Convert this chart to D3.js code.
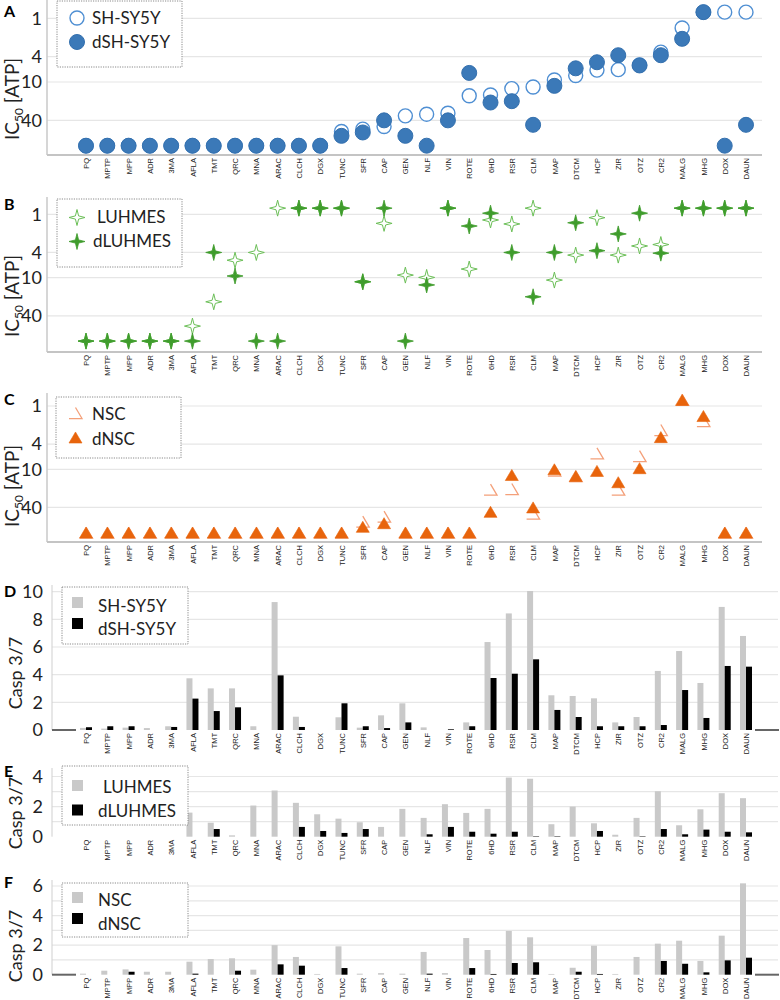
<!DOCTYPE html>
<html><head><meta charset="utf-8">
<script src="https://cdn.jsdelivr.net/npm/d3@7"></script>
<style>body{margin:0;background:#fff} svg{display:block}</style>
</head><body><svg id="c" width="780" height="1000"></svg>
<script>
const categories = ["PQ","MPTP","MPP","ADR","3MA","AFLA","TMT","QRC","MNA","ARAC","CLCH","DGX","TUNC","SFR","CAP","GEN","NLF","VIN","ROTE","6HD","RSR","CLM","MAP","DTCM","HCP","ZIR","OTZ","CR2","MALG","MHG","DOX","DAUN"];
const ic50Ticks = [1, 4, 10, 40];

// Panel A: IC50 (ATP)
const ic50_SHSY5Y  = [100,100,100,100,100,100,100,100,100,100,100,100, 60,55,50,34,32,31,16.4,16,12.7,12,9.3,7.9,6.5,6.4,5.4,3.4,1.42,0.8,0.8,0.8];
const ic50_dSHSY5Y = [100,100,100,100,100,100,100,100,100,100,100,100, 70,62,40,70,100,40,7.2,21,20,47,11.5,6.1,4.9,3.8,5.5,3.8,2.1,0.8,100,47];
// Panel B
const ic50_LUHMES  = [100,100,100,100,100, 58,24,5.3,4.0,0.8,0.8,0.8,0.8,11.6,1.39,9.1,9.9,0.8,7.3,1.23,1.42,0.8,10.9,4.4,1.13,4.4,3.16,3.0,0.8,0.8,0.8,0.8];
const ic50_dLUHMES = [100,100,100,100,100, 100,4.0,9.4,100,100,0.8,0.8,0.8,11.6,0.8,100,13,0.8,1.53,0.96,4.0,20,4.0,1.36,3.75,2.04,0.96,4.1,0.8,0.8,0.8,0.8];
// Panel C
const ic50_NSC  = [100,100,100,100,100,100,100,100,100,100,100,100,100, 67,56,100,100,100,100,21,20.5,50,10.5,12.8,5.6,21,6.2,2.4,0.8,1.73,100,100];
const ic50_dNSC = [100,100,100,100,100,100,100,100,100,100,100,100,100, 81,71,100,100,100,100,47,12.3,40,10,12.8,10.6,16,9.6,3.1,0.8,1.44,100,100];

// Panel D: Casp 3/7
const casp_SHSY5Y  = [0.15,0.1,0.17,0.14,0.27,3.74,3.01,3.01,0.27,9.25,0.96,0,0.92,0.17,1.06,1.93,0.19,0,0.55,6.36,8.43,10.05,2.51,2.46,2.29,0.55,0.94,4.27,5.71,3.4,8.9,6.8];
const casp_dSHSY5Y = [0.2,0.27,0.27,0,0.22,2.27,1.37,1.64,0,3.95,0.22,0,1.93,0.27,0.14,0.55,0,0.05,0.27,3.76,4.07,5.11,1.45,0.94,0.27,0.27,0.27,0.36,2.89,0.87,4.63,4.58];
// Panel E
const casp_LUHMES  = [0,0,0,0,0,1.6,0.93,0.09,2.07,3.07,2.25,1.49,1.2,0.96,0.65,1.85,1.25,2.16,1.58,1.85,3.93,3.85,0.83,2.0,0.89,0.13,1.25,3.02,0.76,1.82,2.89,2.56];
const casp_dLUHMES = [0,0,0,0,0,0,0.51,0,0,0,0.65,0.38,0.25,0.51,0,0,0.16,0.65,0.33,0.2,0.33,0.03,0.03,0,0.38,0,0.03,0.51,0.16,0.47,0.33,0.29];
// Panel F
const casp_NSC  = [0.07,0.27,0.36,0.2,0.2,0.88,1.06,1.11,0.34,2.0,1.2,0.05,1.92,0.07,0.11,0.07,1.54,0.11,2.48,1.67,2.96,2.53,0.05,0.47,1.96,0.05,1.2,2.1,2.3,0.93,2.64,6.18];
const casp_dNSC = [0,0,0.2,0,0,0.07,0,0.27,0,0.7,0.61,0,0.45,0,0,0,0.07,0,0.45,0.05,0.79,0.84,0,0.2,0.05,0,0,0.93,0.74,0.16,0.97,1.15];

const svg = d3.select("#c");
const FONT = "Lato, 'Open Sans', sans-serif";
const x = d3.scalePoint().domain(categories).range([86, 746]);

const starType = {draw(ctx, size){const r=Math.sqrt(size)/2,k=r*0.2;
  ctx.moveTo(0,-r);ctx.lineTo(k,-k);ctx.lineTo(r,0);ctx.lineTo(k,k);ctx.lineTo(0,r);ctx.lineTo(-k,k);ctx.lineTo(-r,0);ctx.lineTo(-k,-k);ctx.closePath();}};
const triType = {draw(ctx, size){const w=Math.sqrt(size),h=w*0.85;
  ctx.moveTo(0,-h/2);ctx.lineTo(w/2,h/2);ctx.lineTo(-w/2,h/2);ctx.closePath();}};
const triOpenType = {draw(ctx, size){const w=Math.sqrt(size),h=w*0.85;
  ctx.moveTo(0,-h/2);ctx.lineTo(w/2,h/2);ctx.lineTo(-w/2,h/2);}};

const styles = {
  circleOpen:  {type:d3.symbolCircle, size:Math.PI*7*7, fill:"#fff", stroke:"#4f8fd3", sw:1.4},
  circleFill:  {type:d3.symbolCircle, size:Math.PI*7.5*7.5, fill:"#3b79b8", stroke:"#3470ae", sw:1},
  starOpen:    {type:starType, size:256, fill:"#fff", stroke:"#6cbf58", sw:1},
  starFill:    {type:starType, size:256, fill:"#3f9c2c", stroke:"#3f9c2c", sw:0.8},
  triOpen:     {type:triOpenType, size:169, fill:"none", stroke:"#f4a07a", sw:1.3},
  triFill:     {type:triType, size:169, fill:"#e8640c", stroke:"#e8640c", sw:0.6}
};

function sym(g, st, tx, ty){
  g.append("path").attr("d", d3.symbol().type(st.type).size(st.size)())
   .attr("transform",`translate(${tx},${ty})`)
   .attr("fill",st.fill).attr("stroke",st.stroke).attr("stroke-width",st.sw);
}

function xLabels(g, y0){
  const ax = g.append("g").attr("transform",`translate(0,${y0})`)
    .call(d3.axisBottom(x).tickSize(0));
  ax.select(".domain").remove();
  ax.selectAll("text").attr("transform","rotate(-90)").attr("text-anchor","end")
    .attr("x",-3).attr("y",0).attr("dy","0.35em")
    .style("font","7.5px 'Liberation Sans', Arial, sans-serif").attr("fill","#222");
}

function panelLetter(t, px, py){
  svg.append("text").attr("x",px).attr("y",py).text(t)
    .style("font",`bold 16px ${FONT}`).attr("fill","#000");
}

function legendBox(x0,y0,x1,y1){
  svg.append("rect").attr("x",x0).attr("y",y0).attr("width",x1-x0).attr("height",y1-y0)
    .attr("fill","#fff").attr("stroke","#8a8a8a").attr("stroke-width",1).attr("stroke-dasharray","1.2,1.2");
}
function legendText(t, tx, ty){
  svg.append("text").attr("x",tx).attr("y",ty).attr("dy","0.35em").text(t)
    .style("font",`17px ${FONT}`).attr("fill","#222");
}

function scatterPanel(cfg){
  const g = svg.append("g");
  const y = d3.scaleLog().domain([1,100]).range([cfg.y1, cfg.y1 + 2*cfg.dec]);
  g.selectAll("line.grid").data(ic50Ticks).join("line")
    .attr("x1",47).attr("x2",762).attr("y1",d=>y(d)).attr("y2",d=>y(d))
    .attr("stroke","#e6e6e6").attr("stroke-width",1.2);
  const ya = g.append("g").attr("transform","translate(47,0)")
    .call(d3.axisLeft(y).tickValues(ic50Ticks).tickFormat(d3.format("d")).tickSize(0).tickPadding(5));
  ya.select(".domain").remove();
  ya.selectAll("text").style("font",`18px ${FONT}`).attr("fill","#222");
  g.append("line").attr("x1",47).attr("x2",47).attr("y1",cfg.axTop).attr("y2",cfg.bottom).attr("stroke","#c8c8c8").attr("stroke-width",1.5);
  g.append("line").attr("x1",47).attr("x2",762).attr("y1",cfg.bottom).attr("y2",cfg.bottom).attr("stroke","#c4c4c4").attr("stroke-width",2);
  xLabels(g, cfg.bottom);
  const tt = g.append("text").attr("transform",`translate(19,${cfg.bottom-56}) rotate(-90)`)
    .attr("text-anchor","middle").style("font",`19px ${FONT}`).attr("fill","#222");
  tt.append("tspan").text("IC");
  tt.append("tspan").attr("dy","4").style("font-size","12px").text("50");
  tt.append("tspan").attr("dy","-4").text(" [ATP]");
  categories.forEach((c,i)=>{ sym(g, cfg.openSt, x(c), y(cfg.open[i])); });
  categories.forEach((c,i)=>{ sym(g, cfg.fillSt, x(c), y(cfg.fill[i])); });
}

function barPanel(cfg){
  const g = svg.append("g");
  const y = d3.scaleLinear().domain([0,cfg.max]).range([cfg.base, cfg.topPx]);
  g.selectAll("line.grid").data(cfg.grid).join("line")
    .attr("x1",52).attr("x2",778).attr("y1",d=>y(d)).attr("y2",d=>y(d))
    .attr("stroke","#e6e6e6").attr("stroke-width",1.2);
  const ya = g.append("g").attr("transform","translate(52,0)")
    .call(d3.axisLeft(y).tickValues(cfg.ticks).tickFormat(d3.format("d")).tickSize(0).tickPadding(9));
  ya.select(".domain").remove();
  ya.selectAll("text").style("font",`18px ${FONT}`).attr("fill","#222");
  g.append("line").attr("x1",52).attr("x2",52).attr("y1",cfg.axTop).attr("y2",cfg.base).attr("stroke","#cfcfcf").attr("stroke-width",1);
  if (cfg.ends){
    g.append("line").attr("x1",52).attr("x2",76).attr("y1",cfg.base).attr("y2",cfg.base).attr("stroke","#666").attr("stroke-width",2);
    g.append("line").attr("x1",755).attr("x2",779).attr("y1",cfg.base).attr("y2",cfg.base).attr("stroke","#666").attr("stroke-width",2);
  }
  g.selectAll("rect.a").data(categories).join("rect")
    .attr("x",d=>x(d)-6).attr("width",6)
    .attr("y",(d,i)=>y(cfg.a[i])).attr("height",(d,i)=>cfg.base-y(cfg.a[i]))
    .attr("fill","#c9c9c9");
  g.selectAll("rect.b").data(categories).join("rect")
    .attr("x",d=>x(d)).attr("width",6)
    .attr("y",(d,i)=>y(cfg.b[i])).attr("height",(d,i)=>cfg.base-y(cfg.b[i]))
    .attr("fill","#000");
  xLabels(g, cfg.base);
  g.append("text").attr("transform",`translate(22,${cfg.titleY}) rotate(-90)`)
    .attr("text-anchor","middle").style("font",`18px ${FONT}`).attr("fill","#222").text("Casp 3/7");
}

scatterPanel({y1:18.3, dec:63.7, bottom:155, axTop:0, open:ic50_SHSY5Y, fill:ic50_dSHSY5Y, openSt:styles.circleOpen, fillSt:styles.circleFill});
scatterPanel({y1:214.3, dec:63.4, bottom:352, axTop:197, open:ic50_LUHMES, fill:ic50_dLUHMES, openSt:styles.starOpen, fillSt:styles.starFill});
scatterPanel({y1:406, dec:63.3, bottom:542, axTop:393, open:ic50_NSC, fill:ic50_dNSC, openSt:styles.triOpen, fillSt:styles.triFill});

barPanel({max:10, base:730, topPx:591.7, grid:[2,4,6,8,10], ticks:[0,2,4,6,8,10], axTop:585, a:casp_SHSY5Y, b:casp_dSHSY5Y, ends:true, titleY:673});
barPanel({max:4, base:836.7, topPx:776.5, grid:[1,2,3,4], ticks:[0,2,4], axTop:768, a:casp_LUHMES, b:casp_dLUHMES, ends:false, titleY:813});
barPanel({max:6, base:974.7, topPx:886, grid:[1,2,3,4,5,6], ticks:[0,2,4,6], axTop:880, a:casp_NSC, b:casp_dNSC, ends:true, titleY:946});

legendBox(57,1,182,67);
sym(svg, styles.circleOpen, 77, 18); legendText("SH-SY5Y", 92, 18.5);
sym(svg, styles.circleFill, 77, 42); legendText("dSH-SY5Y", 92, 42);

legendBox(57,199,182,267);
sym(svg, styles.starOpen, 77, 217.5); legendText("LUHMES", 97, 217.5);
sym(svg, styles.starFill, 77, 241.5); legendText("dLUHMES", 93, 241.5);

legendBox(56,397,181,458);
sym(svg, styles.triOpen, 75.5, 413); legendText("NSC", 92, 414);
sym(svg, styles.triFill, 75.5, 437.5); legendText("dNSC", 92, 439);

legendBox(62,587,188,644);
svg.append("rect").attr("x",72).attr("y",597).attr("width",11).attr("height",11).attr("fill","#c9c9c9");
svg.append("rect").attr("x",72).attr("y",618).attr("width",11).attr("height",11).attr("fill","#000");
legendText("SH-SY5Y", 98, 606); legendText("dSH-SY5Y", 98, 629);

legendBox(62,766,188,825);
svg.append("rect").attr("x",72).attr("y",780).attr("width",11).attr("height",11).attr("fill","#c9c9c9");
svg.append("rect").attr("x",72).attr("y",804.5).attr("width",11).attr("height",11).attr("fill","#000");
legendText("LUHMES", 103, 787); legendText("dLUHMES", 98, 811.5);

legendBox(62,883,188,937);
svg.append("rect").attr("x",72).attr("y",892).attr("width",11).attr("height",11).attr("fill","#c9c9c9");
svg.append("rect").attr("x",72).attr("y",913).attr("width",11).attr("height",11).attr("fill","#000");
legendText("NSC", 98, 900); legendText("dNSC", 98, 924);

panelLetter("A",4,17); panelLetter("B",4,210); panelLetter("C",4,405);
panelLetter("D",4,597); panelLetter("E",4,777); panelLetter("F",4,888);
</script></body></html>
